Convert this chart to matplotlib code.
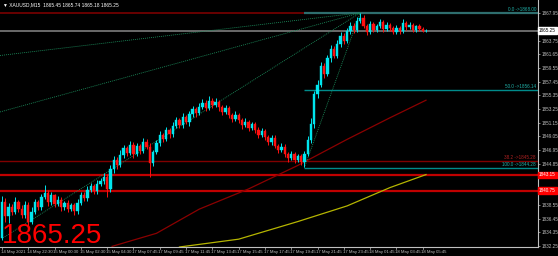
import matplotlib
matplotlib.use("Agg")
import matplotlib.pyplot as plt
from matplotlib.patches import Rectangle
import matplotlib.transforms as mtransforms

plt.rcParams['font.family'] = ['Liberation Sans', 'DejaVu Sans']

# ---------------- data ----------------
first_open = 1833.5
closes = [
    1839.0, 1836.8, 1838.3, 1837.5, 1839.0, 1838.0, 1837.0, 1838.6, 1836.0, 1837.5,
    1839.0, 1838.2, 1839.7, 1840.4, 1839.0, 1840.0, 1838.7, 1839.3, 1838.2, 1838.8,
    1837.9, 1838.5, 1837.6, 1838.9, 1840.1, 1839.6, 1840.8, 1841.4, 1840.7, 1841.7,
    1842.2, 1842.9,
    1841.0, 1844.0, 1845.5, 1844.6, 1846.2, 1847.3, 1846.5, 1847.8, 1846.4, 1847.6,
    1846.8, 1848.2, 1847.5, 1845.0,
    1846.6, 1848.0, 1849.3, 1848.7, 1850.0, 1849.4, 1850.6, 1851.5, 1850.8, 1852.0,
    1851.2, 1852.5, 1853.3, 1852.6, 1853.6, 1854.2, 1853.4, 1854.5, 1853.8, 1854.4,
    1853.5,
    1852.8, 1853.4, 1852.3, 1851.7, 1852.4, 1851.5, 1850.8, 1851.3, 1850.4, 1850.9,
    1850.0, 1849.3, 1849.9, 1849.0,
    1848.2, 1848.8, 1847.6, 1847.0, 1847.5, 1846.4, 1845.8, 1846.3, 1845.5, 1846.0,
    1845.2, 1846.4,
    1848.5, 1851.0, 1855.5, 1857.0, 1859.8, 1858.6, 1861.0, 1862.5, 1861.4, 1863.2,
    1864.5, 1863.6, 1865.2, 1866.0, 1865.3, 1866.8, 1867.2,
    1866.0, 1865.0, 1866.3, 1865.4, 1865.9, 1866.6, 1865.5, 1866.2, 1865.6, 1865.0,
    1865.6, 1865.2, 1866.4, 1865.8, 1866.2, 1865.4, 1865.9, 1865.5, 1865.2, 1865.25,
]
upper_wick = [
    0.9, 0.6, 0.5, 0.4, 0.7, 0.3, 0.5, 0.6, 0.4, 0.8, 0.5, 0.3, 0.6, 1.2, 0.4, 0.5,
    0.3, 0.6, 0.4, 0.3, 0.5, 0.4, 0.3, 0.6, 0.5, 0.4, 0.7, 0.5, 0.3, 0.6, 0.4, 0.5,
    0.4, 0.6, 0.5, 0.4, 0.7, 0.5, 0.3, 0.6, 0.4, 0.5, 0.3, 0.6, 0.4, 0.5,
    0.4, 0.5, 0.6, 0.3, 0.5, 0.4, 0.6, 0.5, 0.3, 0.6, 0.4, 0.5, 0.4, 0.3, 0.5, 0.6,
    0.4, 0.7, 0.4, 0.5, 0.3,
    0.4, 0.5, 0.3, 0.4, 0.6, 0.3, 0.4, 0.5, 0.3, 0.4, 0.3, 0.5, 0.4, 0.3,
    0.3, 0.5, 0.4, 0.3, 0.5, 0.4, 0.3, 0.5, 0.4, 0.4, 0.3, 0.4,
    0.6, 0.8, 0.5, 0.7, 0.6, 0.5, 0.6, 0.5, 0.4, 0.6, 0.5, 0.4, 0.5, 0.6, 0.4, 0.5, 0.8,
    0.4, 0.3, 0.5, 0.3, 0.4, 0.5, 0.3, 0.4, 0.3, 0.4, 0.5, 0.3, 0.6, 0.3, 0.4, 0.3,
    0.3, 0.4, 0.3, 0.2,
]
lower_wick = [
    0.4, 0.9, 1.0, 0.5, 0.3, 0.6, 0.4, 0.5, 1.1, 0.4, 0.3, 0.5, 0.4, 0.3, 0.6, 0.4,
    0.5, 0.3, 0.6, 0.4, 0.5, 0.3, 0.6, 0.4, 0.3, 0.5, 0.4, 0.3, 0.5, 0.4, 0.3, 0.4,
    1.2, 0.4, 0.5, 0.6, 0.3, 0.4, 0.5, 0.3, 0.6, 0.4, 0.5, 0.3, 0.4, 2.2,
    0.5, 0.3, 0.4, 0.5, 0.3, 0.6, 0.4, 0.3, 0.5, 0.4, 0.3, 0.5, 0.4, 0.6, 0.3, 0.4,
    0.5, 0.3, 0.4, 0.3, 0.5,
    0.5, 0.3, 0.4, 0.5, 0.3, 0.4, 0.6, 0.3, 0.5, 0.3, 0.4, 0.5, 0.3, 0.5,
    0.5, 0.4, 0.3, 0.5, 0.4, 0.5, 0.6, 0.3, 0.5, 0.4, 0.6, 0.9,
    0.3, 0.4, 0.6, 0.5, 0.4, 0.6, 0.3, 0.5, 0.4, 0.3, 0.5, 0.4, 0.3, 0.5, 0.4, 0.3, 0.4,
    0.3, 0.4, 0.3, 0.4, 0.3, 0.2, 0.4, 0.3, 0.4, 0.3, 0.2, 0.4, 0.3, 0.4, 0.3, 0.4,
    0.3, 0.3, 0.2, 0.1,
]

x_tick_bars = [0, 8, 16, 24, 32, 40, 48, 56, 64, 72, 80, 88, 96, 104, 112, 120, 128]
x_tick_labels = ["14 May 2021", "14 May 22:30", "15 May 00:30", "15 May 02:30",
                 "15 May 04:30", "17 May 07:45", "17 May 09:45", "17 May 11:45",
                 "17 May 13:45", "17 May 15:45", "17 May 17:45", "17 May 19:45",
                 "17 May 21:45", "17 May 23:45", "18 May 01:45", "18 May 03:45",
                 "18 May 05:45"]
y_ticks = [1832.25, 1834.35, 1836.45, 1838.55, 1844.85, 1846.95,
           1849.05, 1851.15, 1853.25, 1855.35, 1857.45, 1859.55, 1861.65, 1863.75,
           1867.95]

last_price = 1865.25
title_text = "XAUUSD,M15  1865.45 1865.74 1865.18 1865.25"

fib_start_bar = 92
fib_levels = [0.0, 50.0, 100.0]
fib_prices = [1868.00, 1856.14, 1844.28]
red_level_label = "38.2 ->1845.28"
red_level_price = 1845.28
top_red_line = 1868.00
support_lines = [1843.15, 1840.75]

# moving averages (bar, price) control points
ma_red_bars = [33.5, 47, 60, 75, 90, 105, 118, 129]
ma_red_vals = [1832.2, 1834.2, 1837.9, 1841.0, 1844.6, 1848.6, 1851.9, 1854.6]
ma_yel_bars = [54, 72, 90, 105, 118, 129]
ma_yel_vals = [1832.1, 1833.3, 1836.0, 1838.4, 1841.2, 1843.2]

# fan lines (start bar, start price) converging to the peak
peak_bar, peak_price = 109, 1868.0
fan_starts = [(-0.6, 1861.45), (-0.6, 1852.8), (0.3, 1833.5), (92, 1844.28)]

# ---------------- figure ----------------
W, H = 558, 256
fig = plt.figure(figsize=(W / 100, H / 100), dpi=100, facecolor="black")
ax_left, ax_right, ax_bottom = 0, 538, 247
ax = fig.add_axes([ax_left / W, (H - ax_bottom) / H, (ax_right - ax_left) / W, ax_bottom / H])
ax.set_facecolor("black")

n = len(closes)
px_per_bar = 3.287
ax.set_xlim(-2 / px_per_bar, 129 + (538 - 426) / px_per_bar)
ax.set_ylim(1832.10, 1869.96)

grey = "#c0c0c0"
for s in ["top", "left"]:
    ax.spines[s].set_visible(False)
for s in ["right", "bottom"]:
    ax.spines[s].set_color(grey)
    ax.spines[s].set_linewidth(0.8)

# horizontal objects
ax.axhline(top_red_line, color="#7a0000", lw=1.2, zorder=1)
ax.axhline(last_price, color="#6a6a6a", lw=1.4, zorder=1)
for p in support_lines:
    ax.axhline(p, color="#c00000", lw=1.6, zorder=1)
ax.axhline(red_level_price, color="#800000", lw=1.0, zorder=1)
for lv, p in zip(fib_levels, fib_prices):
    col = "#2e6e6e" if lv == 0.0 else "#008b8b"
    ax.hlines(p, fib_start_bar, ax.get_xlim()[1], color=col, lw=1.0 if lv else 1.6, zorder=1)

# moving averages
ax.plot(ma_red_bars, ma_red_vals, color="#8b0000", lw=0.9, zorder=2)
ax.plot(ma_yel_bars, ma_yel_vals, color="#b5b500", lw=0.9, zorder=2)

# fan lines
for sb, sp in fan_starts:
    ax.plot([sb, peak_bar], [sp, peak_price], color="#1b8a5a", lw=0.6,
            ls=(0, (1.2, 1.2)), zorder=2)

# candles
opens = [first_open] + closes[:-1]
bull = "#00e5ee"
bear = "#ff1010"
for i in range(n):
    o, c = opens[i], closes[i]
    hi = max(o, c) + upper_wick[i]
    lo = min(o, c) - lower_wick[i]
    col = bull if c >= o else bear
    ax.vlines(i, lo, hi, color=col, lw=0.7, zorder=3)
    b = min(o, c)
    h = max(abs(c - o), 0.08)
    ax.add_patch(Rectangle((i - 0.35, b), 0.7, h, facecolor=col, edgecolor=col,
                           lw=0.3, zorder=4))

# y ticks on right
ax.yaxis.tick_right()
ax.set_yticks(y_ticks)
ax.set_yticklabels([f"{v:.2f}" for v in y_ticks])
ax.tick_params(axis="y", colors=grey, labelsize=3.3, length=1.5, width=0.5, pad=1.0)
ax.set_xticks([])

# x tick labels
trans = mtransforms.blended_transform_factory(ax.transData, ax.transAxes)
for b, lab in zip(x_tick_bars, x_tick_labels):
    ax.plot([b, b], [0, -0.010], color=grey, lw=0.5, transform=trans, clip_on=False)
    ax.text(b - 0.4, -0.012, lab, transform=trans, color=grey, fontsize=3.1,
            ha="left", va="top")

# right axis price boxes
ytrans = mtransforms.blended_transform_factory(ax.transAxes, ax.transData)
box_w = 19 / 538
def price_box(p, fc, tc):
    ax.add_patch(Rectangle((1.0, p - 0.5), box_w, 1.0, transform=ytrans,
                           facecolor=fc, edgecolor=fc, clip_on=False, zorder=10))
    ax.text(1.0 + box_w / 2, p, f"{p:.2f}", transform=ytrans, color=tc,
            fontsize=3.3, ha="center", va="center", zorder=11, clip_on=False)

price_box(last_price, "white", "black")
for p in support_lines:
    price_box(p, "#ff0000", "white")

# fib labels
lbl_trans = mtransforms.blended_transform_factory(mtransforms.IdentityTransform(), ax.transData)
for lv, p in zip(fib_levels, fib_prices):
    ax.text(536, p + 0.15, f"{lv:.1f} ->{p:.2f}", transform=lbl_trans,
            color="#20b2aa", fontsize=3.3, ha="right", va="bottom")
ax.text(536, red_level_price + 0.15, red_level_label, transform=lbl_trans,
        color="#b22222", fontsize=3.3, ha="right", va="bottom")

# title and big price
fig.text(3 / W, 1 - 5 / H, "\u25bc " + title_text, color="white", fontsize=3.5,
         ha="left", va="center")
fig.text(2 / W, (H - 243) / H, f"{last_price:.2f}", color="#ff0000", fontsize=20,
         ha="left", va="baseline")

fig.savefig("out.png", dpi=100, facecolor="black")
